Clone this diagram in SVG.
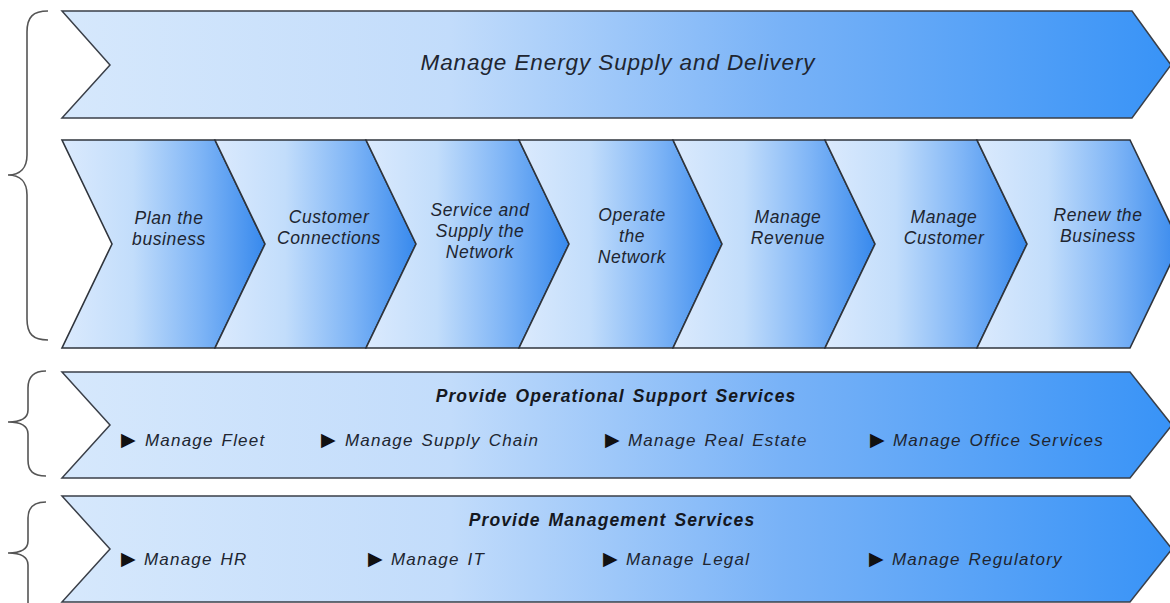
<svg xmlns="http://www.w3.org/2000/svg" width="1170" height="603" viewBox="0 0 1170 603">
  <defs>
    <!-- banner fill: pale blue on the left to saturated blue on the right -->
    <linearGradient id="bandFill" x1="0" y1="0" x2="1" y2="0">
      <stop offset="0" stop-color="#d6e8fc"/>
      <stop offset="0.35" stop-color="#c2dcfb"/>
      <stop offset="0.65" stop-color="#78b2f7"/>
      <stop offset="1" stop-color="#3893f7"/>
    </linearGradient>
    <!-- chevron fill -->
    <linearGradient id="chevFill" x1="0" y1="0" x2="1" y2="0">
      <stop offset="0" stop-color="#dbeafd"/>
      <stop offset="0.35" stop-color="#c2ddfb"/>
      <stop offset="0.68" stop-color="#7fb5f6"/>
      <stop offset="1" stop-color="#3789ed"/>
    </linearGradient>
    <style>
      .band { fill: url(#bandFill); stroke: #3a3f48; stroke-width: 1.5; stroke-linejoin: miter; }
      .chev { fill: url(#chevFill); stroke: #2f343c; stroke-width: 1.6; stroke-linejoin: miter; }
      .brace { fill: none; stroke: #555; stroke-width: 1.6; }
      .title { font-family: "Liberation Sans", Arial, sans-serif; font-style: italic; font-size: 22.5px; fill: #202530; text-anchor: middle; letter-spacing: 0.9px; }
      .step { font-family: "Liberation Sans", Arial, sans-serif; font-style: italic; font-size: 17.5px; fill: #202530; text-anchor: middle; letter-spacing: 0.6px; }
      .head { font-family: "Liberation Sans", Arial, sans-serif; font-style: italic; font-weight: bold; font-size: 17.5px; fill: #15181f; text-anchor: middle; letter-spacing: 1.1px; word-spacing: 2px; }
      .item { font-family: "Liberation Sans", Arial, sans-serif; font-style: italic; font-size: 17px; fill: #202530; letter-spacing: 1.2px; word-spacing: 2px; }
      .bullet { font-family: "DejaVu Sans", sans-serif; font-style: normal; font-size: 19px; fill: #111; letter-spacing: 0; }
    </style>
  </defs>

  <!-- grouping braces on the left -->
  <g id="braces">
    <path class="brace" d="M48,11 C33,11 27,17 27,32 L27,155 C27,168 20,175 8,175 C20,175 27,182 27,195 L27,319 C27,334 33,340 48,340"/>
    <path class="brace" d="M46,371 C33,371 28,377 28,388 L28,410 C28,418 22,422 8,422 C22,422 28,426 28,434 L28,460 C28,471 33,476 46,476"/>
    <path class="brace" d="M46,502 C33,502 28,508 28,518 L28,541 C28,549 22,553 8,553 C22,553 28,557 28,565 L28,603"/>
  </g>

  <!-- top banner -->
  <g id="energy-supply">
    <path class="band" d="M62,11 L1132,11 L1171,65 L1132,118 L62,118 L110,65 Z"/>
    <text class="title" x="618" y="70">Manage Energy Supply and Delivery</text>
  </g>

  <!-- value chain chevrons -->
  <g id="plan-business">
    <path class="chev" d="M62,140 L215,140 L265,244 L215,348 L62,348 L112,244 Z"/>
    <text class="step" x="169" y="224">Plan the</text>
    <text class="step" x="169" y="245">business</text>
  </g>
  <g id="customer-connections">
    <path class="chev" d="M215,140 L366,140 L416,244 L366,348 L215,348 L265,244 Z"/>
    <text class="step" x="329" y="223">Customer</text>
    <text class="step" x="329" y="244">Connections</text>
  </g>
  <g id="service-supply">
    <path class="chev" d="M366,140 L519,140 L569,244 L519,348 L366,348 L416,244 Z"/>
    <text class="step" x="480" y="216">Service and</text>
    <text class="step" x="480" y="237">Supply the</text>
    <text class="step" x="480" y="258">Network</text>
  </g>
  <g id="operate-network">
    <path class="chev" d="M519,140 L673,140 L722,244 L673,348 L519,348 L569,244 Z"/>
    <text class="step" x="632" y="221">Operate</text>
    <text class="step" x="632" y="242">the</text>
    <text class="step" x="632" y="263">Network</text>
  </g>
  <g id="manage-revenue">
    <path class="chev" d="M673,140 L825,140 L875,244 L825,348 L673,348 L722,244 Z"/>
    <text class="step" x="788" y="223">Manage</text>
    <text class="step" x="788" y="244">Revenue</text>
  </g>
  <g id="manage-customer">
    <path class="chev" d="M825,140 L977,140 L1027,244 L977,348 L825,348 L875,244 Z"/>
    <text class="step" x="944" y="223">Manage</text>
    <text class="step" x="944" y="244">Customer</text>
  </g>
  <g id="renew-business">
    <path class="chev" d="M977,140 L1130,140 L1180,244 L1130,348 L977,348 L1027,244 Z"/>
    <text class="step" x="1098" y="221">Renew the</text>
    <text class="step" x="1098" y="242">Business</text>
  </g>

  <!-- operational support banner -->
  <g id="operational-support">
    <path class="band" d="M62,372 L1130,372 L1172,425 L1130,478 L62,478 L110,425 Z"/>
    <text class="head" x="616" y="402">Provide Operational Support Services</text>
    <text class="item" y="446"><tspan class="bullet" x="121">▶</tspan><tspan x="145">Manage Fleet</tspan></text>
    <text class="item" y="446"><tspan class="bullet" x="321">▶</tspan><tspan x="345">Manage Supply Chain</tspan></text>
    <text class="item" y="446"><tspan class="bullet" x="605">▶</tspan><tspan x="628">Manage Real Estate</tspan></text>
    <text class="item" y="446"><tspan class="bullet" x="870">▶</tspan><tspan x="893">Manage Office Services</tspan></text>
  </g>

  <!-- management services banner -->
  <g id="management-services">
    <path class="band" d="M62,496 L1130,496 L1172,549 L1130,602 L62,602 L110,549 Z"/>
    <text class="head" x="612" y="526">Provide Management Services</text>
    <text class="item" y="565"><tspan class="bullet" x="121">▶</tspan><tspan x="144">Manage HR</tspan></text>
    <text class="item" y="565"><tspan class="bullet" x="368">▶</tspan><tspan x="391">Manage IT</tspan></text>
    <text class="item" y="565"><tspan class="bullet" x="603">▶</tspan><tspan x="626">Manage Legal</tspan></text>
    <text class="item" y="565"><tspan class="bullet" x="869">▶</tspan><tspan x="892">Manage Regulatory</tspan></text>
  </g>
</svg>
